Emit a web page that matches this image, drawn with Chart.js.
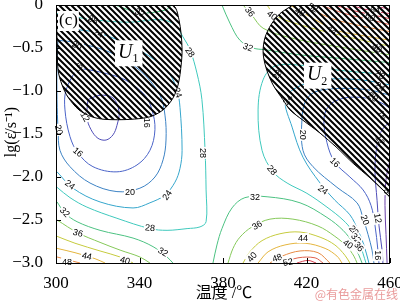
<!DOCTYPE html>
<html>
<head>
<meta charset="utf-8">
<script src="https://cdn.jsdelivr.net/npm/chart.js@4.4.0/dist/chart.umd.min.js"></script>
<style>
  html, body { margin: 0; padding: 0; background: #fff; }
  canvas { display: block; }
</style>
</head>
<body>
<canvas id="procMap" width="400" height="306"></canvas>
<script>
// axis ticks
const tempTicks = [300, 340, 380, 420, 460];
const rateTicks = [0, -0.5, -1.0, -1.5, -2.0, -2.5, -3.0];

// contour lines, [temperature, lg strain rate]
const c8 = [[460,-1.80],[458.1,-2.03],[457.6,-2.33],[458.1,-2.67],[458.6,-3.0]];
const c12Right = [[460,-1.36],[456.2,-1.45],[453.8,-1.63],[452.8,-1.92],[453.8,-2.27],[454.7,-2.56],[456.2,-2.85],[456.6,-3.0]];
const c16Right = [[460,-1.20],[455.2,-1.13],[448.0,-1.08],[438.4,-1.08],[431.2,-1.16],[428.4,-1.31],[429.8,-1.60],[433.6,-1.83],[440.8,-2.00],[447.1,-2.15],[450.9,-2.33],[452.8,-2.56],[454.2,-2.85],[454.7,-3.0]];
const c20Right = [[460,-1.05],[450.4,-0.99],[436.0,-0.97],[424.1,-1.01],[419.3,-1.13],[417.8,-1.34],[418.3,-1.69],[423.1,-1.88],[434.6,-2.12],[444.2,-2.30],[447.1,-2.48],[449.5,-2.67],[451.4,-2.85],[452.3,-3.0]];
const c24Right = [[460,-0.93],[445.6,-0.87],[426.5,-0.87],[414.5,-0.97],[409.7,-1.10],[413.1,-1.42],[418.3,-1.77],[426.5,-2.07],[433.6,-2.27],[440.8,-2.44],[444.7,-2.62],[447.5,-2.79],[449.9,-3.0]];
const c28Right = [[460,-0.81],[436.0,-0.76],[416.9,-0.70],[404.9,-0.71],[399.2,-0.87],[396.8,-1.22],[398.7,-1.69],[404.0,-1.94],[410.7,-2.07],[420.2,-2.19],[429.8,-2.35],[437.5,-2.50],[441.8,-2.62],[445.6,-2.79],[448.5,-3.0]];
const c32Top = [[379.5,0],[383.3,-0.21],[388.1,-0.41],[394.4,-0.50],[400.1,-0.52],[416.9,-0.58],[436.0,-0.62],[460,-0.67]];
const c36Top = [[389.6,0],[393.9,-0.12],[399.2,-0.27],[412.1,-0.38],[431.2,-0.47],[460,-0.58]];
const c40Top = [[401.1,0],[404.9,-0.12],[416.9,-0.23],[436.0,-0.35],[460,-0.48]];
const c44Top = [[412.1,0],[424.1,-0.17],[433.6,-0.29],[445.6,-0.35],[460,-0.41]];
const c48Top = [[419.3,0],[431.2,-0.15],[445.6,-0.24],[460,-0.31]];
const c52Top = [[426.5,0],[438.4,-0.10],[450.4,-0.17],[460,-0.23]];
const c56Top = [[433.6,0],[443.2,-0.07],[452.8,-0.12],[460,-0.16]];
const c60Top = [[440.8,0],[448.0,-0.05],[454.2,-0.08],[460,-0.10]];
const c64Top = [[448.0,0],[454.2,-0.02],[460,-0.05]];
const c32Arch = [[375.2,-3.0],[377.1,-2.79],[379.5,-2.60],[384.3,-2.36],[390.5,-2.24],[401.1,-2.23],[416.9,-2.30],[429.8,-2.47],[437.5,-2.62],[442.3,-2.77],[445.1,-2.91],[446.6,-3.0]];
const c36Arch = [[382.4,-3.0],[384.8,-2.83],[388.1,-2.70],[393.9,-2.58],[402.5,-2.49],[413.5,-2.49],[425.5,-2.57],[433.6,-2.69],[439.4,-2.81],[442.7,-2.92],[444.2,-3.0]];
const c40Arch = [[389.6,-3.0],[392.9,-2.87],[398.7,-2.74],[407.3,-2.66],[416.9,-2.64],[426.5,-2.70],[433.6,-2.79],[438.4,-2.91],[440.8,-3.0]];
const c44Arch = [[396.8,-3.0],[401.6,-2.87],[409.7,-2.79],[419.3,-2.77],[428.9,-2.83],[434.6,-2.92],[437.0,-3.0]];
const c48Arch = [[402.5,-3.0],[408.3,-2.92],[416.9,-2.86],[425.5,-2.88],[431.2,-3.0]];
const c52Arch = [[408.7,-3.0],[415.9,-2.94],[424.1,-2.94],[427.9,-3.0]];
const c56Arch = [[415.4,-3.0],[420.7,-2.97],[424.6,-3.0]];
const c28Left = [[300.5,-0.10],[317.7,-0.17],[335.4,-0.20],[349.8,-0.17],[357.0,-0.23],[360.8,-0.37],[364.2,-0.52],[367.5,-0.79],[369.9,-1.10],[371.4,-1.69],[371.9,-2.15],[371.9,-2.52],[369.0,-2.58],[362.8,-2.60],[353.2,-2.62],[345.0,-2.60],[329.2,-2.48],[314.8,-2.35],[306.7,-2.24],[300.5,-2.12]];
const c32Corner = [[328.3,0],[340.2,-0.09],[352.2,-0.06],[355.6,0]];
const c24Left = [[300.5,-0.27],[311.5,-0.29],[321.1,-0.33],[335.4,-0.47],[347.4,-0.64],[354.6,-0.81],[358.0,-0.99],[359.4,-1.19],[360.4,-1.69],[359.4,-1.90],[357.0,-2.06],[352.2,-2.21],[345.0,-2.30],[336.9,-2.36],[321.1,-2.29],[308.1,-2.13],[300.5,-1.94]];
const c20Left = [[301.0,-0.41],[310.1,-0.44],[325.9,-0.55],[340.2,-0.76],[349.8,-1.05],[352.2,-1.28],[352.7,-1.57],[351.3,-1.80],[347.4,-2.00],[340.2,-2.13],[329.2,-2.17],[316.3,-2.07],[306.7,-1.88],[301.9,-1.69],[301.0,-1.45],[300.5,-1.10],[300.5,-0.64],[301.0,-0.41]];
const c16Left = [[310.1,-0.73],[321.1,-0.78],[333.1,-0.87],[342.6,-1.05],[346.0,-1.22],[347.4,-1.45],[345.0,-1.69],[338.8,-1.86],[329.2,-1.94],[317.7,-1.88],[310.5,-1.72],[306.7,-1.53],[304.3,-1.22],[304.8,-0.99],[310.1,-0.73]];
const c12Left = [[315.3,-1.10],[321.1,-1.05],[327.3,-1.08],[330.2,-1.24],[329.2,-1.40],[327.3,-1.51],[324.0,-1.57],[320.1,-1.55],[316.8,-1.45],[314.8,-1.31],[315.3,-1.10]];
const c32Left = [[300.5,-2.29],[304.3,-2.42],[310.1,-2.52],[321.1,-2.62],[336.9,-2.71],[346.5,-2.81],[353.2,-2.93],[356.0,-3.0]];
const c36Left = [[300.5,-2.50],[310.5,-2.65],[321.1,-2.76],[330.7,-2.85],[340.2,-2.93],[345.0,-3.0]];
const c40Left = [[300.5,-2.69],[309.1,-2.77],[321.1,-2.86],[330.7,-2.93],[336.9,-3.0]];
const c44Left = [[300.5,-2.83],[309.1,-2.88],[318.7,-2.95],[323.5,-3.0]];
const c48Left = [[300.5,-2.93],[306.7,-2.97],[311.5,-3.0]];

// instability domains U1 and U2
const hatchU1 = [[300,0],[355.6,0],[358.9,-0.17],[360.4,-0.52],[359.4,-0.81],[358.0,-0.97],[355.6,-1.10],[351.3,-1.22],[345.0,-1.30],[335.4,-1.33],[323.5,-1.33],[317.2,-1.30],[311.0,-1.22],[305.7,-1.07],[302.9,-0.93],[301.0,-0.76],[300.5,-0.41],[300,0]];
const hatchU2 = [[413.5,0],[407.3,-0.10],[403.0,-0.23],[400.1,-0.38],[399.2,-0.55],[400.6,-0.73],[404.0,-0.93],[408.7,-1.10],[412.1,-1.22],[418.3,-1.34],[426.5,-1.49],[434.6,-1.66],[442.3,-1.84],[450.4,-2.01],[456.6,-2.15],[460,-2.22],[460,0],[413.5,0]];

// domain name positions
const domainNames = [['1', 329.7, -0.55], ['2', 420.2, -0.81]];

// contour labels: text, temperature, lg rate, angle (deg)
const contourLabels = [
  ['32',340.2,-0.09,25],['28',317.7,-0.17,25],['24',320.1,-0.33,25],['20',310.1,-0.47,25],
  ['16',310.5,-0.73,-50],['12',313.9,-1.30,60],['16',343.6,-1.37,90],['24',358.4,-1.02,70],
  ['28',364.2,-0.55,55],['20',301.4,-1.45,75],['16',310.5,-1.71,40],['20',335.4,-2.17,0],
  ['24',306.7,-2.09,35],['24',353.2,-2.21,-55],['28',370.4,-1.72,90],['28',345.0,-2.59,5],
  ['32',304.3,-2.41,45],['36',310.5,-2.65,15],['32',351.3,-2.87,30],['44',314.8,-2.92,12],
  ['40',333.1,-2.97,15],['48',305.3,-2.99,0],
  ['36',392.9,-0.08,55],['40',403.5,-0.12,40],['32',392.0,-0.49,20],['28',405.9,-0.81,-55],
  ['24',411.1,-1.10,-55],['20',418.3,-1.51,90],['16',433.6,-1.83,45],['24',427.9,-2.15,35],
  ['28',403.5,-1.92,50],['32',395.3,-2.23,0],['36',396.3,-2.56,-30],['44',418.3,-2.71,0],
  ['40',393.9,-2.93,-50],['48',405.9,-2.94,-20],['52',411.1,-2.99,-10],['20',448.0,-2.50,70],
  ['12',454.2,-2.48,80],['16',454.2,-2.91,90],['28',442.7,-2.62,50],['32',443.7,-2.71,50],
  ['36',445.1,-2.81,50],['40',439.9,-2.78,35],['8',458.6,-2.17,90],['16',456.2,-1.28,60],
  ['12',455.2,-1.57,60],['28',455.2,-0.81,35],['24',455.2,-0.95,35],['20',451.8,-1.07,35],
  ['40',453.8,-0.50,35],['44',432.2,-0.29,35],['48',416.9,-0.08,30],['52',423.1,-0.03,30],
  ['60',450.4,-0.14,30],['64',452.8,-0.06,0]
];

const levelColors = {
  8: '#6a3fa8', 12: '#4f4db8', 16: '#4a63c8', 20: '#3c82c4', 24: '#35a6cc',
  28: '#3fc9bd', 32: '#4cc282', 36: '#86c95a', 40: '#c6cb3e', 44: '#e4b53e',
  48: '#e88a44', 52: '#e0604c', 56: '#d84452', 60: '#cf3c62', 64: '#c83a72'
};

const contours = [
  [8, c8], [12, c12Right], [16, c16Right], [20, c20Right], [24, c24Right], [28, c28Right],
  [32, c32Top], [36, c36Top], [40, c40Top], [44, c44Top], [48, c48Top], [52, c52Top],
  [56, c56Top], [60, c60Top], [64, c64Top],
  [32, c32Arch], [36, c36Arch], [40, c40Arch], [44, c44Arch], [48, c48Arch], [52, c52Arch], [56, c56Arch],
  [28, c28Left], [32, c32Corner], [24, c24Left], [20, c20Left], [16, c16Left], [12, c12Left],
  [32, c32Left], [36, c36Left], [40, c40Left], [44, c44Left], [48, c48Left]
];

const toXY = pts => pts.map(p => ({ x: p[0], y: p[1] }));

function makeHatch() {
  const tile = document.createElement('canvas');
  tile.width = 6; tile.height = 6;
  const g = tile.getContext('2d');
  g.strokeStyle = '#000';
  g.lineWidth = 2;
  g.beginPath();
  g.moveTo(-1, -1); g.lineTo(7, 7);
  g.moveTo(-1, 5); g.lineTo(1, 7);
  g.moveTo(5, -1); g.lineTo(7, 1);
  g.stroke();
  return g.createPattern(tile, 'repeat');
}
const hatch = makeHatch();

const datasets = contours.map(([lvl, pts]) => ({
  data: toXY(pts),
  borderColor: levelColors[lvl],
  borderWidth: 1,
  showLine: true,
  pointRadius: 0,
  tension: 0.35,
  fill: false,
  order: 0
}));
[hatchU1, hatchU2].forEach(pts => datasets.push({
  data: toXY(pts),
  borderColor: '#000',
  borderWidth: 1,
  backgroundColor: hatch,
  showLine: true,
  pointRadius: 0,
  tension: 0.3,
  fill: 'shape',
  order: -1
}));

const serif = "'Liberation Serif', 'Times New Roman', serif";

// contour labels go on after the last contour line, before the hatching
const labelPlugin = {
  id: 'labels',
  afterDatasetDraw(chart, args) {
    if (args.index !== 0) return;
    const { ctx, scales: { x, y } } = chart;
    ctx.save();
    ctx.font = "9px 'Liberation Sans', Arial, sans-serif";
    ctx.textAlign = 'center';
    ctx.textBaseline = 'middle';
    contourLabels.forEach(([t, tv, lv, ang]) => {
      const px = x.getPixelForValue(tv), py = y.getPixelForValue(lv);
      ctx.save();
      ctx.translate(px, py);
      ctx.rotate(ang * Math.PI / 180);
      const w = ctx.measureText(t).width;
      ctx.fillStyle = '#fff';
      ctx.fillRect(-w / 2 - 1, -5, w + 2, 10);
      ctx.fillStyle = '#000';
      ctx.fillText(t, 0, 0.5);
      ctx.restore();
    });
    ctx.restore();
  },
  afterDraw(chart) {
    const { ctx, chartArea: a, scales: { x, y } } = chart;
    ctx.save();
    // frame and inward ticks
    ctx.strokeStyle = '#000';
    ctx.lineWidth = 1;
    ctx.strokeRect(a.left + 0.5, a.top + 0.5, a.right - a.left - 1, a.bottom - a.top);
    ctx.beginPath();
    tempTicks.forEach(v => {
      const px = Math.round(x.getPixelForValue(v)) + 0.5;
      ctx.moveTo(px, a.bottom); ctx.lineTo(px, a.bottom - 5);
    });
    rateTicks.forEach(v => {
      const py = Math.round(y.getPixelForValue(v)) + 0.5;
      ctx.moveTo(a.left, py); ctx.lineTo(a.left + 5, py);
    });
    ctx.stroke();

    // panel letter and domain names
    ctx.font = '17px ' + serif;
    ctx.fillStyle = '#fff';
    ctx.fillRect(a.left + 2, a.top + 6, ctx.measureText('(c)').width + 2, 20);
    ctx.fillStyle = '#000';
    ctx.textBaseline = 'middle';
    ctx.textAlign = 'left';
    ctx.fillText('(c)', a.left + 3, a.top + 16);
    domainNames.forEach(([sub, tv, lv]) => {
      const px = x.getPixelForValue(tv), py = y.getPixelForValue(lv);
      ctx.font = 'italic 20px ' + serif;
      const w = ctx.measureText('U').width;
      ctx.fillStyle = '#fff';
      ctx.fillRect(px - 3, py - 12, w + 13, 26);
      ctx.fillStyle = '#000';
      ctx.textBaseline = 'middle';
      ctx.textAlign = 'left';
      ctx.fillText('U', px, py);
      ctx.font = '12px ' + serif;
      ctx.fillText(sub, px + w, py + 7);
    });

    // axis titles
    ctx.fillStyle = '#000';
    ctx.textAlign = 'center';
    ctx.textBaseline = 'middle';
    ctx.font = "16px " + serif + ", 'Noto Sans CJK SC'";
    ctx.fillText('温度 /℃', 224, 294);
    ctx.save();
    ctx.translate(12, 132);
    ctx.rotate(-Math.PI / 2);
    ctx.font = '16px ' + serif;
    ctx.fillText('lg(ε̇/s⁻¹)', 0, 0);
    ctx.restore();

    ctx.font = "12px 'Noto Sans CJK SC', sans-serif";
    ctx.fillStyle = 'rgba(226,120,120,0.75)';
    ctx.textAlign = 'right';
    ctx.fillText('@有色金属在线', 398, 294);
    ctx.restore();
  }
};

new Chart(document.getElementById('procMap'), {
  type: 'scatter',
  data: { datasets },
  options: {
    responsive: false,
    animation: false,
    events: [],
    layout: { padding: { top: 5, right: 10, left: 0, bottom: 0 } },
    plugins: {
      legend: { display: false },
      tooltip: { enabled: false },
      filler: { drawTime: 'beforeDatasetDraw' }
    },
    scales: {
      x: {
        type: 'linear', min: 300, max: 460,
        afterBuildTicks: s => { s.ticks = tempTicks.map(v => ({ value: v })); },
        afterFit: s => { s.height = 43; s.paddingLeft = 0; s.paddingRight = 0; },
        grid: { display: false },
        border: { display: false },
        ticks: { color: '#000', padding: 2, maxRotation: 0, font: { family: serif, size: 17 } }
      },
      y: {
        type: 'linear', min: -3, max: 0,
        afterBuildTicks: s => { s.ticks = rateTicks.map(v => ({ value: v })); },
        afterFit: s => { s.width = 56; s.paddingTop = 0; s.paddingBottom = 0; },
        grid: { display: false },
        border: { display: false },
        ticks: {
          color: '#000', padding: 5, font: { family: serif, size: 17 },
          callback: v => v === 0 ? '0' : '\u2212' + Math.abs(v).toFixed(1)
        }
      }
    }
  },
  plugins: [labelPlugin]
});
</script>
</body>
</html>
